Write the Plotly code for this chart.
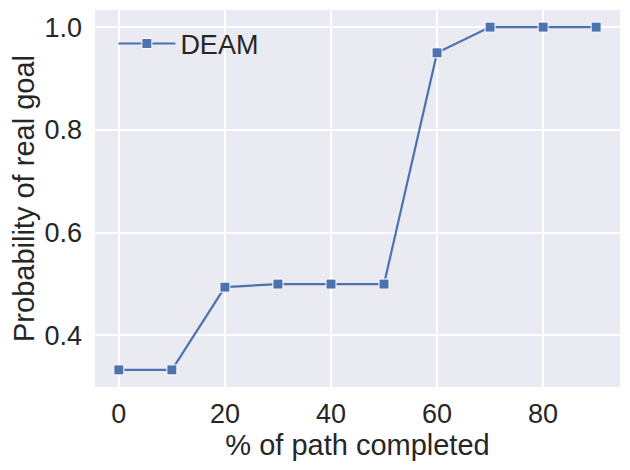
import plotly.graph_objects as go

pct_completed = [0, 10, 20, 30, 40, 50, 60, 70, 80, 90]
prob_real_goal = [0.333, 0.333, 0.494, 0.5, 0.5, 0.5, 0.95, 1.0, 1.0, 1.0]
series_name = "DEAM"

FONT = "Liberation Sans, Arial, sans-serif"
fig = go.Figure()
fig.add_trace(go.Scatter(
    x=pct_completed, y=prob_real_goal, name=series_name,
    mode="lines+markers",
    line=dict(color="#4C72B0", width=2.2),
    marker=dict(symbol="square", size=10, color="#4C72B0",
                line=dict(color="white", width=1)),
))
fig.update_layout(
    width=622, height=462,
    margin=dict(l=87, r=10, t=2, b=83, autoexpand=False),
    paper_bgcolor="white", plot_bgcolor="#EAEAF2",
    font=dict(family=FONT, size=27, color="#262626"),
    showlegend=True,
    legend=dict(x=0.035, y=0.975, xanchor="left", yanchor="top",
                bgcolor="rgba(0,0,0,0)", font=dict(size=27),
                itemwidth=57),
    xaxis=dict(range=[-4.5, 94.5], tickvals=[0, 20, 40, 60, 80],
               showgrid=True, gridcolor="white", gridwidth=1.5,
               zeroline=False, showline=False, ticks="",
               ticklabelstandoff=8, automargin=False,
               tickfont=dict(size=27),
               title=dict(text="% of path completed", font=dict(size=29), standoff=6)),
    yaxis=dict(range=[0.2997, 1.0333], tickvals=[0.4, 0.6, 0.8, 1.0],
               tickformat=".1f",
               showgrid=True, gridcolor="white", gridwidth=1.5,
               zeroline=False, showline=False, ticks="",
               ticklabelstandoff=12, automargin=False,
               tickfont=dict(size=27),
               title=dict(text="Probability of real goal", font=dict(size=29), standoff=11)),
)
fig.write_html("out.html")
